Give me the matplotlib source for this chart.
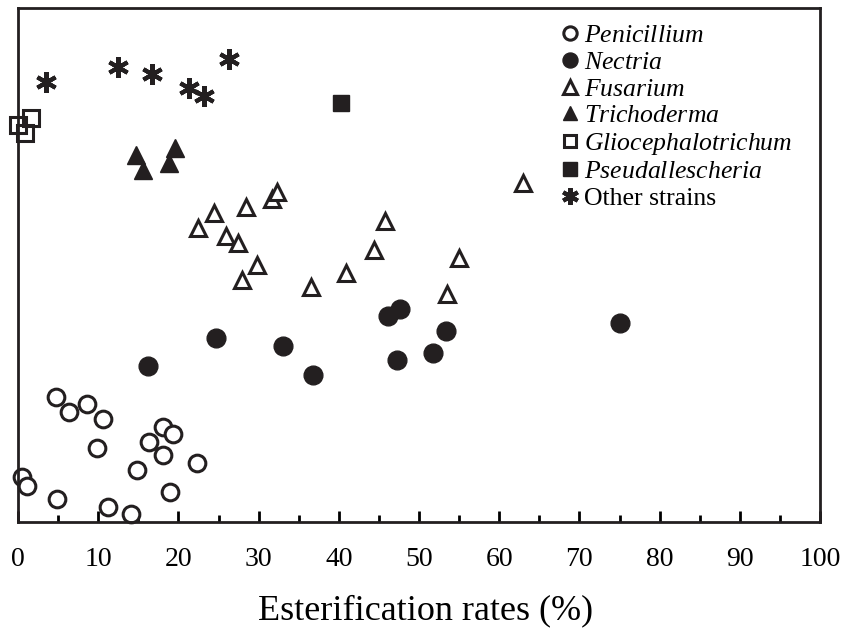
import matplotlib
matplotlib.use('Agg')
import matplotlib.pyplot as plt
from matplotlib.ticker import MultipleLocator, NullLocator

plt.rcParams['font.family'] = ['Liberation Serif', 'DejaVu Serif']
plt.rcParams['mathtext.fontset'] = 'custom'
plt.rcParams['mathtext.it'] = 'Liberation Serif:italic'

# esterification rate (%) and relative vertical position of each strain
penicillium_x = [4.7, 6.4, 8.6, 10.6, 9.8, 18.1, 19.3, 16.3, 18.1, 22.3, 14.8, 0.5, 1.1, 4.9, 11.2, 14.1, 18.9]
penicillium_y = [125, 110, 118, 103, 74, 95, 88, 80, 67, 59, 52, 45, 36, 23, 15, 8, 30]

nectria_x = [16.2, 24.7, 33.0, 36.8, 46.1, 47.6, 47.2, 51.7, 53.4, 75.0]
nectria_y = [156, 184, 176, 147, 206, 213, 162, 169, 191, 199]

fusarium_x = [22.4, 24.4, 25.9, 27.4, 28.4, 29.8, 27.9, 31.7, 32.3, 36.5, 40.9, 44.4, 45.8, 53.5, 55.0, 63.0]
fusarium_y = [294, 309, 286, 279, 315, 257, 242, 323, 330, 235, 249, 272, 301, 228, 264, 339]

trichoderma_x = [14.7, 15.6, 19.6, 18.8]
trichoderma_y = [367, 352, 374, 359]

glio_x = [0.0, 1.6, 0.9]
glio_y = [397, 404, 389]

pseudall_x = [40.3]
pseudall_y = [419]

other_x = [3.5, 12.5, 16.7, 21.3, 23.2, 26.3]
other_y = [440, 455, 448, 434, 426, 463]

fig = plt.figure(figsize=(8.57, 6.34), dpi=100)
ax = fig.add_axes([18 / 857, 112 / 634, 802 / 857, 514 / 634])

ax.plot(penicillium_x, penicillium_y, 'o', ms=12, mfc='white', mec='#231f20', mew=2.2, ls='none',
        label='$\\it{Penicillium}$', clip_on=False)
ax.plot(nectria_x, nectria_y, 'o', ms=13.5, mfc='#231f20', mec='#231f20', ls='none',
        label='$\\it{Nectria}$', clip_on=False)
ax.plot(fusarium_x, fusarium_y, '^', ms=12, mfc='white', mec='#231f20', mew=2.2, ls='none',
        label='$\\it{Fusarium}$', clip_on=False)
ax.plot(trichoderma_x, trichoderma_y, '^', ms=13, mfc='#231f20', mec='#231f20', ls='none',
        label='$\\it{Trichoderma}$', clip_on=False)
ax.plot(glio_x, glio_y, 's', ms=11, mfc='none', mec='#231f20', mew=2.2, ls='none',
        label='$\\it{Gliocephalotrichum}$', clip_on=False)
ax.plot(pseudall_x, pseudall_y, 's', ms=12, mfc='#231f20', mec='#231f20', ls='none',
        label='$\\it{Pseudallescheria}$', clip_on=False)
ax.plot(other_x, other_y, marker=(6, 2, 0), ms=15, mec='#231f20', mew=3, ls='none',
        label='Other strains', clip_on=False)

ax.set_xlim(0, 100)
ax.set_ylim(0, 514)
ax.xaxis.set_major_locator(MultipleLocator(10))
ax.xaxis.set_minor_locator(MultipleLocator(5))
ax.yaxis.set_major_locator(NullLocator())
ax.tick_params(axis='x', which='major', direction='in', length=8, width=2, pad=18, labelsize=20)
ax.tick_params(axis='x', which='minor', direction='in', length=5, width=2)
for s in ax.spines.values():
    s.set_linewidth(2)
    s.set_color('#231f20')

ax.set_xlabel('Esterification rates (%)', fontsize=26, labelpad=16)
ax.xaxis.label.set_x(0.508)

leg = ax.legend(loc='upper right', bbox_to_anchor=(0.985, 0.998), frameon=False, fontsize=18.5,
                handlelength=0.6, handletextpad=0.25, labelspacing=0.14, borderaxespad=0.2,
                markerscale=0.8)

fig.savefig('out.png', dpi=100)
